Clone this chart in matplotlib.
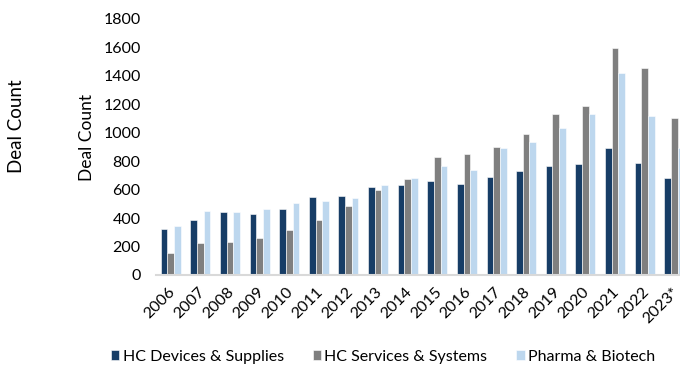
import numpy as np
import matplotlib
matplotlib.use("Agg")
import matplotlib.pyplot as plt
import matplotlib.transforms as mtransforms

plt.rcParams['font.family'] = ['Lato', 'DejaVu Sans']

# 各年度交易数量
years = ['2006', '2007', '2008', '2009', '2010', '2011', '2012', '2013', '2014',
         '2015', '2016', '2017', '2018', '2019', '2020', '2021', '2022', '2023*']
devices = [323, 387, 443, 427, 462, 548, 558, 617, 633,
           663, 640, 687, 729, 766, 780, 893, 785, 682]
services = [155, 223, 230, 260, 319, 385, 485, 597, 675,
            830, 853, 900, 989, 1130, 1186, 1598, 1453, 1101]
pharma = [344, 450, 443, 462, 509, 520, 541, 633, 680,
          766, 736, 891, 937, 1033, 1130, 1420, 1116, 893]

series = [('HC Devices & Supplies', devices, '#173d66'),
          ('HC Services & Systems', services, '#7f7f7f'),
          ('Pharma & Biotech', pharma, '#bdd7ee')]

fig = plt.figure(figsize=(6.8, 3.7), dpi=100)
# 坐标区故意伸出右边界，最后一组柱子被裁掉一部分
ax = fig.add_axes([156 / 680, 95 / 370, 533 / 680, 256 / 370])

x = np.arange(len(years))
w = 0.225
for i, (name, vals, col) in enumerate(series):
    ax.bar(x + (i - 1) * w, vals, width=w, color=col, label=name,
           edgecolor='white', linewidth=0.4)

ax.set_xlim(-0.5, len(years) - 0.5)
ax.set_ylim(0, 1800)
ax.set_yticks(np.arange(0, 1801, 200))
ax.tick_params(axis='y', length=0, labelsize=11.5, pad=11)
ax.tick_params(axis='x', length=0, labelsize=11.5, pad=7)
ax.set_xticks(x)
ax.set_xticklabels(years, rotation=45, ha='right', va='top',
                   rotation_mode='anchor')
# 年份标签略微左移，免得最后一个被切掉
shift = mtransforms.ScaledTranslation(-3 / 100, 0, fig.dpi_scale_trans)
for lab in ax.get_xticklabels():
    lab.set_transform(lab.get_transform() + shift)

for s in ['top', 'right', 'left']:
    ax.spines[s].set_visible(False)
ax.spines['bottom'].set_color('#d9d9d9')
ax.spines['bottom'].set_linewidth(1.5)

ax.set_ylabel('Deal Count', fontsize=12.5)
ax.yaxis.set_label_coords(-0.114, 0.539)
fig.text(17 / 680, 1 - 126 / 370, 'Deal Count', rotation=90, fontsize=13.5,
         ha='center', va='center')

fig.legend(loc='center', bbox_to_anchor=(383 / 680, 1 - 357 / 370), ncol=3,
           frameon=False, fontsize=11.5, handlelength=0.55, handleheight=0.6,
           handletextpad=0.2, columnspacing=1.8)

fig.savefig('out.png', dpi=100)
